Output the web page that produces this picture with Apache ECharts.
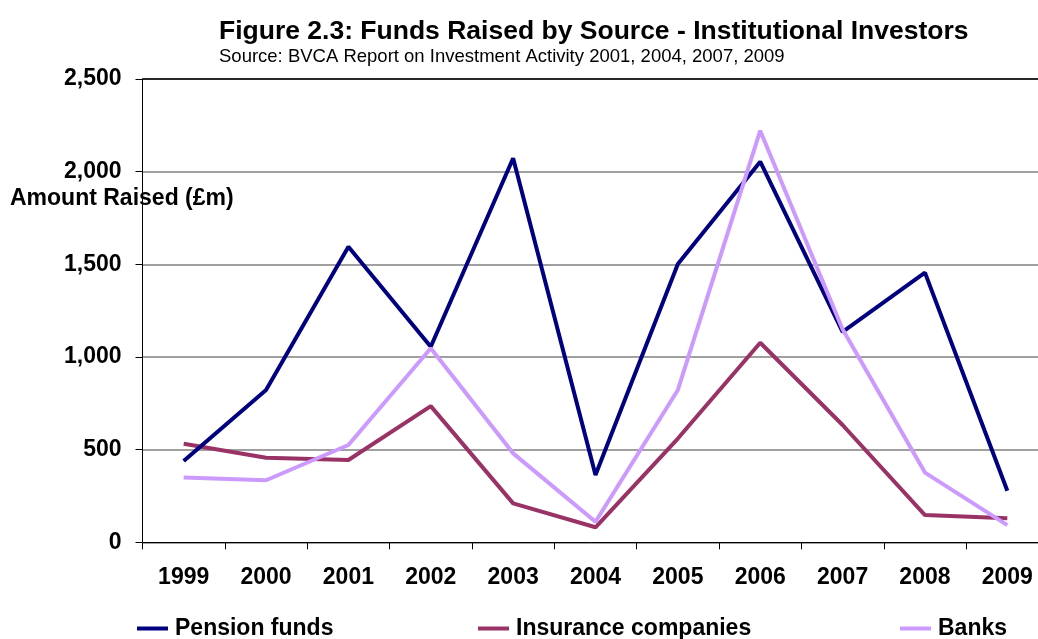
<!DOCTYPE html>
<html>
<head>
<meta charset="utf-8">
<script src="https://cdn.jsdelivr.net/npm/echarts@6/dist/echarts.min.js"></script>
<style>
html,body{margin:0;padding:0;background:#fff;}
#chart{width:1038px;height:639px;}
</style>
</head>
<body>
<div id="chart"></div>
<script>
const years = ['1999','2000','2001','2002','2003','2004','2005','2006','2007','2008','2009'];
const pensionFunds = [439, 822, 1595, 1055, 2072, 363, 1502, 2054, 1136, 1455, 278];
const insuranceCompanies = [532, 456, 444, 735, 210, 81, 560, 1077, 633, 147, 130];
const banks = [349, 335, 525, 1047, 480, 111, 822, 2221, 1150, 376, 93];
const yTicks = [0, 500, 1000, 1500, 2000, 2500];

const FONT = 'Liberation Sans, Arial, sans-serif';
const chart = echarts.init(document.getElementById('chart'), null, {renderer: 'canvas'});

function legendFor(name, left) {
  return {
    data: [name], left: left, top: 612, icon: 'rect', itemWidth: 31, itemHeight: 4, itemGap: 6,
    textStyle: {fontFamily: FONT, fontWeight: 'bold', fontSize: 23, color: '#000', padding: [0, 0, 0, 2]}
  };
}

chart.setOption({
  animation: false,
  backgroundColor: '#fff',
  title: [
    {text: 'Figure 2.3: Funds Raised by Source - Institutional Investors', left: 214, top: 13,
     textStyle: {fontFamily: FONT, fontWeight: 'bold', fontSize: 26.5, color: '#000'}},
    {text: 'Source: BVCA Report on Investment Activity 2001, 2004, 2007, 2009', left: 214, top: 42,
     textStyle: {fontFamily: FONT, fontWeight: 'normal', fontSize: 18.5, color: '#000'}}
  ],
  legend: [
    legendFor('Pension funds', 132),
    legendFor('Insurance companies', 473),
    legendFor('Banks', 895)
  ],
  grid: {left: 142.5, top: 79, width: 906, bottom: 96.7, containLabel: false, outerBoundsMode: 'none'},
  xAxis: {
    type: 'category', data: years, boundaryGap: true,
    axisLine: {show: true, lineStyle: {color: '#000', width: 1}},
    axisTick: {show: true, inside: false, length: 7, alignWithLabel: false, lineStyle: {color: '#000'}},
    axisLabel: {fontFamily: FONT, fontWeight: 'bold', fontSize: 23, color: '#000', margin: 24, interval: 0}
  },
  yAxis: {
    type: 'value', min: yTicks[0], max: yTicks[yTicks.length - 1], interval: 500,
    axisLine: {show: true, lineStyle: {color: '#000', width: 1}},
    axisTick: {show: true, length: 7, lineStyle: {color: '#000'}},
    splitLine: {show: true, lineStyle: {color: '#808080', width: 1.5}},
    axisLabel: {fontFamily: FONT, fontWeight: 'bold', fontSize: 23, color: '#000', margin: 21,
      formatter: v => v.toLocaleString('en-US')}
  },
  graphic: [
    {type: 'text', left: 10, top: 187, z: 100,
     style: {text: 'Amount Raised (£m)', font: 'bold 23px ' + FONT, fill: '#000'}}
  ],
  series: [
    {name: 'Pension funds', type: 'line', data: pensionFunds, symbol: 'none',
     lineStyle: {color: '#000080', width: 4}, itemStyle: {color: '#000080'}, z: 3,
     markLine: {silent: true, symbol: 'none', label: {show: false},
       lineStyle: {color: '#000', width: 1.5, type: 'solid'},
       data: [{yAxis: yTicks[yTicks.length - 1]}]}},
    {name: 'Insurance companies', type: 'line', data: insuranceCompanies, symbol: 'none',
     lineStyle: {color: '#993366', width: 4}, itemStyle: {color: '#993366'}, z: 2},
    {name: 'Banks', type: 'line', data: banks, symbol: 'none',
     lineStyle: {color: '#CC99FF', width: 4}, itemStyle: {color: '#CC99FF'}, z: 4}
  ]
});
</script>
</body>
</html>
